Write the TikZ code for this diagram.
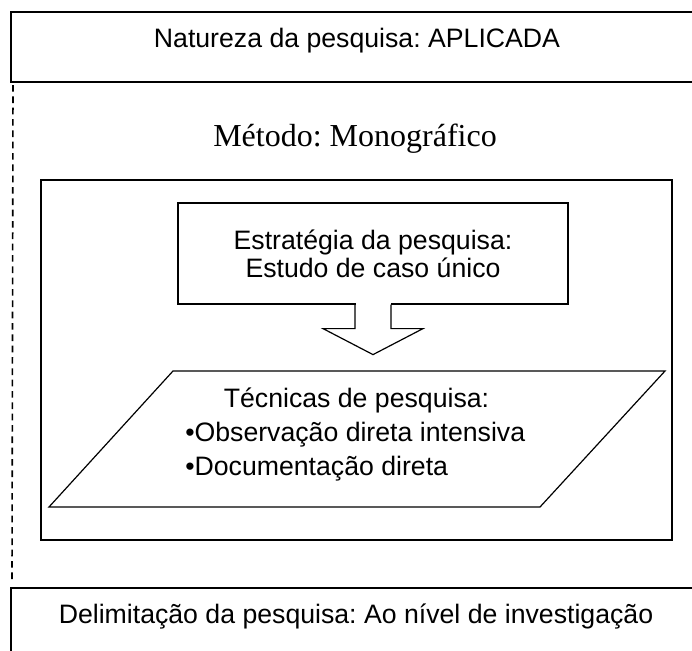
\documentclass[tikz,border=0pt]{standalone}
\usepackage{fontspec}
\setmainfont{Liberation Serif}
\setsansfont{Liberation Sans}
\usetikzlibrary{calc}
\frenchspacing

\begin{document}
\begin{tikzpicture}[x=0.75pt,y=-0.75pt]
\tikzset{Caixa/.style ={draw, line width=1.8pt}}
\tikzset{Fina/.style ={draw, line width=0.9pt, line join=miter}}
\tikzset{Texto/.style ={font=\sffamily\fontsize{20}{21}\selectfont, inner sep=0pt}}
\useasboundingbox (0,0) rectangle (692,650);
\clip (0,0) rectangle (692,650);
\draw[Caixa] (11,12) rectangle (720,82);
\node[Texto, anchor=base] (N) at (357,47) {Natureza da pesquisa: APLICADA};
\draw[line width=1.2pt, dash pattern=on 5pt off 3.5pt] (13,85) -- (12,580);
\node[font=\rmfamily\fontsize{24}{26}\selectfont, inner sep=0pt, anchor=base] (M) at (355,146) {Método: Monográfico};
\draw[Caixa] (41,180) rectangle (672,540);
\node[Texto, Fina, align=center, minimum width=292.5pt, minimum height=75.75pt] (E) at (373,253.5)
  {Estratégia da pesquisa:\\Estudo de caso único};
\fill[white] ($(E.south)+(-17.5,-2)$) rectangle ($(E.south)+(17.5,2)$);
\draw[Fina] ($(E.south)+(-18,0)$) -- ++(0,24) -- ++(-32,0) -- ++(50,26) -- ++(50,-26) -- ++(-32,0) -- ++(0,-24);
\draw[Fina] (173,371) -- (665,371) -- (540,507) -- (49,507) -- cycle;
\node[Texto, anchor=base] (T) at (356.5,407) {Técnicas de pesquisa:};
\node[Texto, anchor=base west] (O) at (185,441) {•Observação direta intensiva};
\node[Texto, anchor=base west] (D) at (185,475) {•Documentação direta};
\draw[Caixa] (11,588) rectangle (720,700);
\node[Texto, anchor=base] (L) at (356,623) {Delimitação da pesquisa: Ao nível de investigação};
\end{tikzpicture}
\end{document}
